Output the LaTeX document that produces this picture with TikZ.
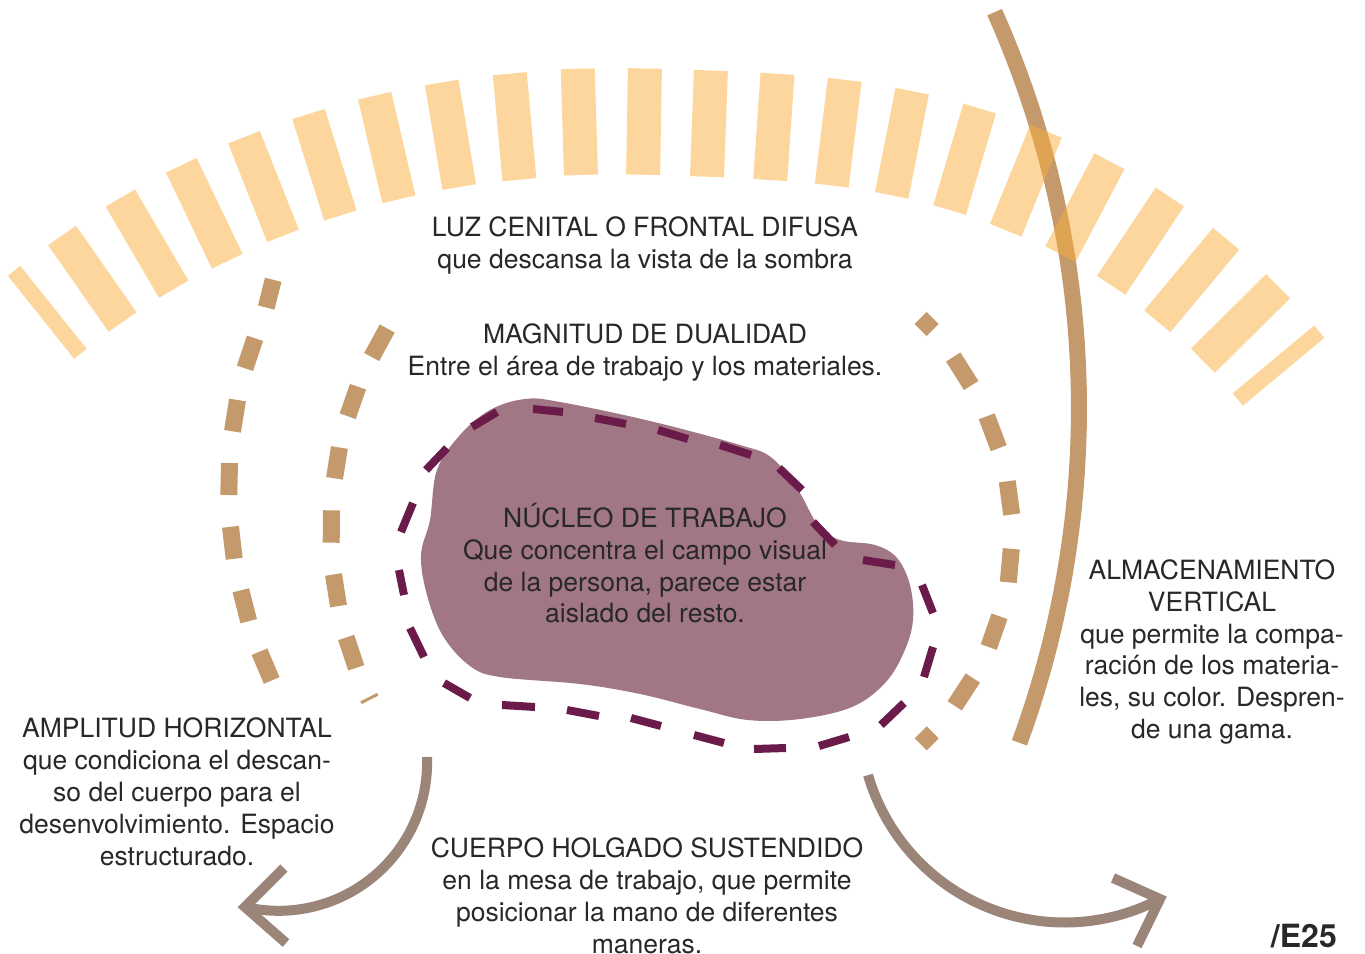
\documentclass[tikz,border=0pt]{standalone}
\usepackage{fontspec}
\setmainfont{TeX Gyre Heros}
\definecolor{raycol}{RGB}{250,175,60}
\definecolor{tanbrown}{RGB}{196,154,108}
\definecolor{blobfill}{RGB}{161,118,133}
\definecolor{dashplum}{RGB}{107,27,74}
\definecolor{arrowcol}{RGB}{155,133,120}
\definecolor{txtcol}{RGB}{40,40,40}
\tikzset{
  raybar/.style={line width=34pt, draw=raycol, draw opacity=0.5, line cap=butt},
  rayend/.style={raybar, line width=16pt},
  arcline/.style={line width=16pt, draw=tanbrown, line cap=butt},
  bdash/.style={line width=17pt, draw=tanbrown, line cap=butt},
  pdash/.style={line width=8pt, draw=dashplum, line cap=butt},
  arrowline/.style={line width=10pt, draw=arrowcol, line cap=butt, line join=miter},
  txt/.style={anchor=base, inner sep=0pt, text=txtcol, font=\fontsize{26.5}{32}\selectfont},
  tag/.style={anchor=base east, inner sep=0pt, text=txtcol, font=\fontsize{32}{36}\selectfont\bfseries}
}
\begin{document}
\begin{tikzpicture}[x=1pt,y=-1pt]
\clip (0,0) rectangle (1365,953);
\fill[white] (0,0) rectangle (1365,953);

% big brown arc (vertical storage)
\draw[arcline] plot[domain=-20.17:24.06, samples=80, smooth] ({108+971*cos(\x)},{408-971*sin(\x)});

% light rays
\draw[rayend] (14.1,270.8) -- (80.4,353.8);
\foreach \ax/\ay/\bx/\by in {
  62.1/235.5/122.5/322, 120.3/198/173.7/289.2, 181.3/165.3/227.2/261.2,
  244/137.2/283/235.8, 308.5/114/340.4/215.5, 374.6/95.7/398.9/199.3,
  441.7/82.5/459.2/187, 509.8/73.7/519.4/179.7, 577.7/68.8/581/175,
  644.9/68.5/643.1/174.7, 710.9/70.5/707/176.7, 777.5/73.8/770.2/180,
  844.7/79.8/831.7/185.5, 912.2/91.2/891.7/195.3, 979.7/108.5/949.6/210,
  1046/131.2/1005.7/230.2, 1109.4/161.2/1060.4/254.2, 1169.8/197/1111.2/285.3,
  1226.1/238.8/1157.3/321.3, 1278.1/286.2/1202.9/360.7}
  \draw[raybar] (\ax,\ay) -- (\bx,\by);
\draw[rayend] (1319.2,331.7) -- (1237.8,399.5);

% brown dashed arcs
\foreach \ax/\ay/\bx/\by in {
  273.2/279.8/266.2/307.5, 255/338.3/245/368.3, 237.5/400/232.5/431.3,
  229.5/463/228.8/495, 230.5/526.8/234.2/558.8, 240.8/590.3/248.7/621.2,
  259.5/651.7/271.7/680.5,
  387.2/328.5/371.7/357, 358/386.7/347.7/416.2, 339.5/447.5/334.5/478.3,
  331.5/510.3/331.2/542.7, 333.5/574.5/338.5/606, 346.2/637.5/356.3/667.8,
  920.7/318/932.7/330, 953.2/357/971.2/385.5, 986.7/416.3/998.7/448.2,
  1007.2/481.3/1011.7/514.5, 1011.3/548.8/1008.3/582.3, 999.5/616.3/988.7/647,
  972.8/678/954.7/705.8, 932.7/732.3/920.7/744.3}
  \draw[bdash] (\ax,\ay) -- (\bx,\by);
\draw[bdash, line width=3pt] (361,702.7) -- (377.7,694.3);

% work core blob
\fill[blobfill] plot[smooth cycle, tension=0.6] coordinates {
  (430,520) (437,470) (460,435) (490,410) (525,399) (560,402) (650,421)
  (740,445) (772,458) (798,490) (818,525) (840,540) (875,545) (897,558)
  (910,585) (913,620) (904,652) (885,683) (852,707) (800,719) (748,720)
  (700,709) (640,694) (580,684) (500,677) (470,666) (443,636) (427,595) (421,555)};

% purple dashed loop
\foreach \ax/\ay/\bx/\by in {
  472/427/497/412, 533/409/563/412, 595/418/626/424, 658/430/688/439,
  720/445/751/455, 779/468/802/490, 813/522/835/545, 863/560/895/565,
  922/585/933/613, 933/647/924/677, 904/703/881/725, 849/737/819/746,
  786/748/754/749, 724/743/694/735, 661/726/631/718, 599/716/567/710,
  535/707/502/705, 470/698/444/683, 424/657/410/628, 404/595/399/570,
  401/532/413/503, 426/470/447/448}
  \draw[pdash] (\ax,\ay) -- (\bx,\by);

% arrows
\coordinate (ltip) at (245,907);
\coordinate (rtip) at (1160,899);
\draw[arrowline] plot[domain=2.1:-103.1, samples=60, smooth] ({278.7+148.4*cos(\x)},{762.4-148.4*sin(\x)});
\draw[arrowline] (284,868) -- (ltip) -- (286,943);
\draw[arrowline] plot[domain=-163.7:-62.3, samples=60, smooth] ({1064.7+204.9*cos(\x)},{717.6-204.9*sin(\x)});
\draw[arrowline] (1113,878) -- (rtip) -- (1137,946);

% texts
\node[txt] (luz1) at (645,236) {LUZ CENITAL O FRONTAL DIFUSA};
\node[txt] (luz2) at (645,268) {que descansa la vista de la sombra};
\node[txt] (mag1) at (645,343) {MAGNITUD DE DUALIDAD};
\node[txt] (mag2) at (645,375) {Entre el área de trabajo y los materiales.};
\node[txt] (nuc1) at (645,527) {NÚCLEO DE TRABAJO};
\node[txt] (nuc2) at (645,559) {Que concentra el campo visual};
\node[txt] (nuc3) at (645,591) {de la persona, parece estar};
\node[txt] (nuc4) at (645,622) {aislado del resto.};
\node[txt] (amp1) at (177,737) {AMPLITUD HORIZONTAL};
\node[txt] (amp2) at (177,769) {que condiciona el descan-};
\node[txt] (amp3) at (177,801) {so del cuerpo para el};
\node[txt] (amp4) at (177,833) {desenvolvimiento. Espacio};
\node[txt] (amp5) at (177,865) {estructurado.};
\node[txt] (alm1) at (1212,579) {ALMACENAMIENTO};
\node[txt] (alm2) at (1212,611) {VERTICAL};
\node[txt] (alm3) at (1212,643) {que permite la compa-};
\node[txt] (alm4) at (1212,674) {ración de los materia-};
\node[txt] (alm5) at (1212,706) {les, su color. Despren-};
\node[txt] (alm6) at (1212,738) {de una gama.};
\node[txt] (cue1) at (647,857) {CUERPO HOLGADO SUSTENDIDO};
\node[txt] (cue2) at (647,889) {en la mesa de trabajo, que permite};
\node[txt] (cue3) at (647,921) {posicionar la mano de diferentes};
\node[txt] (cue4) at (647,953) {maneras.};
\node[tag] (e25) at (1337,947) {/E25};
\end{tikzpicture}
\end{document}
